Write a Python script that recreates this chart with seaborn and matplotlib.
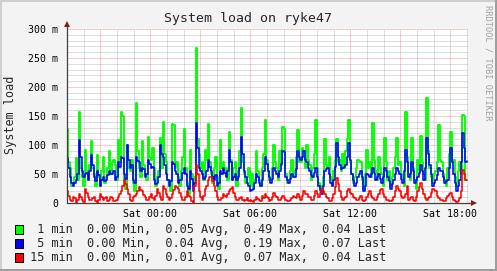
import numpy as np
import pandas as pd
import matplotlib
matplotlib.use("Agg")
import matplotlib.pyplot as plt
import matplotlib.transforms as mtransforms
from matplotlib.patches import Rectangle
from matplotlib.lines import Line2D
import seaborn as sns

# ---------------- data (milli-load, one sample every ~5.4 min from Fri 19:00) ----------------
load_1min = [128, 70, 60, 30, 35, 45, 78, 40, 157, 60, 45, 30, 91, 55, 40, 65, 107, 60, 50, 30,
             83, 45, 30, 55, 80, 35, 45, 60, 90, 50, 70, 75, 65, 40, 108, 70, 157, 150, 40, 25,
             100, 60, 55, 75, 35, 20, 172, 90, 60, 45, 107, 65, 50, 40, 114, 80, 75, 95, 60, 30,
             45, 55, 112, 60, 140, 85, 70, 40, 40, 20, 137, 135, 60, 70, 45, 30, 55, 80, 127, 60,
             35, 15, 92, 50, 30, 45, 268, 110, 85, 60, 70, 40, 92, 75, 137, 70, 50, 35, 60, 80,
             45, 25, 108, 60, 70, 55, 60, 40, 122, 75, 40, 60, 70, 30, 55, 90, 164, 70, 50, 35,
             45, 60, 30, 50, 25, 40, 90, 55, 40, 30, 60, 85, 143, 75, 55, 40, 40, 60, 100, 70,
             60, 40, 90, 65, 131, 128, 50, 35, 40, 55, 75, 45, 55, 80, 126, 70, 70, 95, 90, 60,
             100, 75, 65, 40, 60, 85, 143, 60, 35, 20, 30, 45, 110, 65, 60, 80, 45, 30, 55, 75,
             110, 70, 75, 55, 85, 60, 90, 110, 143, 70, 50, 35, 45, 60, 75, 72, 70, 40, 25, 50,
             92, 60, 70, 45, 138, 75, 55, 40, 80, 60, 50, 30, 112, 70, 40, 55, 30, 45, 60, 80,
             112, 65, 70, 50, 45, 30, 157, 80, 50, 40, 112, 60, 40, 25, 75, 55, 115, 70, 50, 40,
             181, 90, 60, 45, 35, 50, 55, 70, 134, 75, 70, 50, 40, 30, 60, 85, 122, 70, 75, 45,
             30, 55, 70, 50, 152, 150, 40, 40]
load_5min = [78, 60, 45, 35, 30, 35, 40, 50, 109, 80, 55, 45, 50, 52, 40, 55, 83, 65, 45, 38,
             55, 48, 30, 40, 45, 38, 40, 48, 55, 50, 50, 55, 40, 45, 70, 62, 80, 78, 50, 42,
             100, 75, 60, 65, 40, 35, 80, 72, 70, 55, 60, 58, 45, 50, 75, 68, 60, 62, 40, 33,
             35, 45, 100, 85, 80, 65, 50, 40, 30, 38, 70, 68, 55, 50, 35, 40, 40, 52, 60, 50,
             30, 25, 55, 42, 20, 35, 138, 95, 60, 55, 50, 42, 45, 55, 75, 62, 55, 45, 40, 48,
             30, 35, 55, 50, 60, 52, 45, 55, 92, 70, 40, 45, 50, 40, 45, 60, 114, 85, 55, 45,
             35, 30, 20, 22, 25, 35, 50, 45, 35, 30, 40, 55, 80, 68, 55, 45, 35, 42, 60, 55,
             50, 45, 55, 68, 90, 88, 45, 40, 35, 42, 50, 45, 45, 58, 90, 80, 75, 80, 90, 75,
             70, 60, 55, 48, 45, 52, 60, 45, 30, 22, 15, 30, 55, 58, 60, 50, 35, 30, 40, 62,
             103, 80, 65, 58, 60, 62, 65, 80, 103, 75, 50, 40, 30, 35, 45, 50, 55, 45, 20, 30,
             50, 48, 45, 50, 60, 52, 40, 45, 50, 42, 35, 45, 60, 55, 45, 38, 25, 32, 40, 50,
             60, 55, 50, 42, 35, 55, 91, 70, 45, 50, 70, 55, 35, 40, 45, 52, 65, 55, 40, 60,
             112, 85, 65, 50, 30, 35, 40, 48, 60, 55, 55, 45, 35, 38, 40, 60, 95, 70, 50, 35,
             20, 30, 40, 70, 121, 95, 70, 72]
load_15min = [20, 12, 5, 3, 10, 8, 0, 5, 15, 10, 5, 2, 25, 18, 10, 5, 5, 8, 10, 3,
              0, 5, 15, 10, 5, 8, 10, 4, 5, 10, 8, 3, 3, 6, 10, 15, 20, 30, 40, 32,
              25, 15, 5, 3, 10, 12, 15, 20, 28, 22, 20, 14, 10, 6, 5, 10, 15, 8, 5, 12,
              25, 18, 10, 5, 30, 25, 15, 10, 5, 8, 15, 22, 30, 28, 25, 18, 10, 6, 5, 10,
              20, 12, 10, 3, 0, 30, 65, 50, 20, 10, 5, 12, 25, 30, 40, 45, 45, 38, 30, 20,
              10, 6, 5, 8, 15, 12, 10, 15, 20, 25, 27, 18, 10, 5, 5, 8, 10, 6, 3, 5,
              8, 4, 5, 3, 2, 5, 10, 7, 5, 3, 12, 9, 15, 10, 8, 4, 5, 10, 18, 12,
              10, 6, 5, 8, 12, 9, 6, 3, 3, 5, 8, 12, 10, 8, 15, 10, 5, 12, 20, 15,
              15, 10, 10, 6, 5, 12, 20, 15, 10, 18, 25, 20, 15, 10, 8, 4, 3, 8, 15, 28,
              43, 32, 20, 10, 5, 8, 10, 20, 25, 18, 15, 10, 8, 5, 5, 9, 12, 6, 3, 5,
              10, 15, 20, 12, 8, 5, 5, 10, 15, 22, 25, 15, 10, 6, 5, 3, 3, 6, 10, 20,
              30, 25, 20, 12, 8, 10, 15, 30, 5, 8, 10, 5, 3, 10, 20, 28, 35, 25, 15, 8,
              5, 8, 10, 18, 25, 22, 20, 12, 8, 5, 5, 3, 3, 8, 12, 15, 18, 10, 5, 3,
              2, 4, 8, 20, 57, 50, 40, 40]

series_names = ["1 min", "5 min", "15 min"]
series_values = [load_1min, load_5min, load_15min]
series_colors = ["#00FF00", "#0000FF", "#FF0000"]
stat_min = [0.00, 0.00, 0.00]
stat_avg = [0.05, 0.04, 0.01]
stat_max = [0.49, 0.19, 0.07]
stat_last = [0.04, 0.07, 0.04]

x_tick_hours = [5, 11, 17, 23]          # hours after Fri 19:00
x_tick_labels = ["Sat 00:00", "Sat 06:00", "Sat 12:00", "Sat 18:00"]
y_ticks = [0, 50, 100, 150, 200, 250, 300]
y_tick_labels = ["0", "50 m", "100 m", "150 m", "200 m", "250 m", "300 m"]
title_text = "System load on ryke47"
y_label_text = "System load"
watermark_text = "RRDTOOL / TOBI OETIKER"

span_hours = 24.06

# ---------------- figure ----------------
sns.set_style("white")
plt.rcParams["font.family"] = ["DejaVu Sans Mono", "DejaVu Sans"]

W, H = 497, 271
fig = plt.figure(figsize=(W / 100, H / 100), dpi=100, facecolor="#F3F3F3")
ax = fig.add_axes([67 / W, 1 - 203 / H, (468 - 67) / W, (203 - 29) / H])
ax.set_facecolor("white")

line_widths = [1.35, 1.15, 1.15]
for name, vals, col, lw in zip(series_names, series_values, series_colors, line_widths):
    hrs = np.arange(len(vals)) * (span_hours / len(vals))
    d = pd.DataFrame({"hour": hrs, "load": vals})
    sns.lineplot(data=d, x="hour", y="load", ax=ax, color=col, linewidth=lw,
                 drawstyle="steps-post", legend=False, zorder=3)

ax.set_xlim(0, span_hours)
ax.set_ylim(0, 300)
ax.set_xlabel("")
ax.set_ylabel("")

# ticks / grid
major_x = list(range(2, 24, 3))
ax.set_xticks(major_x)
ax.set_xticklabels([x_tick_labels[x_tick_hours.index(h)] if h in x_tick_hours else "" for h in major_x])
ax.set_xticks(list(range(1, 25)), minor=True)
ax.set_yticks(y_ticks)
ax.set_yticklabels(y_tick_labels)
ax.set_yticks(list(range(0, 301, 10)), minor=True)
ax.set_axisbelow(True)
ax.grid(which="minor", color="#8F8F8F", alpha=0.6, linewidth=0.72, linestyle=(0, (1, 1)))
ax.grid(which="major", color="#E93B3B", alpha=0.5, linewidth=0.72, linestyle=(0, (1, 1)))
ax.tick_params(axis="both", which="major", length=2, width=0.72, color="#E93B3B",
               labelsize=7.1, labelcolor="black")
ax.tick_params(axis="y", which="major", pad=4.5)
ax.tick_params(axis="x", which="major", pad=2.5)
ax.tick_params(axis="both", which="minor", length=1, width=0.72, color="#A0A0A0")
for s in ax.spines.values():
    s.set_visible(False)

# axis lines and arrows
axis_col = "#404040"
ax.add_line(Line2D([0, 0], [0, 1 + 4 / 174], transform=ax.transAxes, color=axis_col,
                   lw=0.9, clip_on=False, zorder=5))
ax.add_line(Line2D([0, 1 + 4 / 401], [0, 0], transform=ax.transAxes, color=axis_col,
                   lw=0.9, clip_on=False, zorder=5))
arrow_col = "#7F1F1F"
ax.plot([0], [1], transform=mtransforms.offset_copy(ax.transAxes, fig, x=0, y=5, units="dots"),
        marker="^", markersize=4.2, color=arrow_col, clip_on=False, zorder=6, mew=0)
ax.plot([1], [0], transform=mtransforms.offset_copy(ax.transAxes, fig, x=6, y=0, units="dots"),
        marker=">", markersize=4.2, color=arrow_col, clip_on=False, zorder=6, mew=0)

# texts
fig.text(248 / W, 1 - 18.5 / H, title_text, ha="center", va="center", fontsize=9.5)
fig.text(10.5 / W, 1 - 115 / H, y_label_text, ha="center", va="center", rotation=90, fontsize=8.5)
fig.text(488 / W, 1 - 5 / H, watermark_text, ha="center", va="top", rotation=270,
         fontsize=6.2, color="#A0A0A0")

# legend
row_y = [229, 243, 257]
for name, col, mn, av, mx, la, ry in zip(series_names, series_colors, stat_min, stat_avg,
                                          stat_max, stat_last, row_y):
    fig.patches.append(Rectangle((15 / W, 1 - (ry + 4.5) / H), 8 / W, 9 / H,
                                 transform=fig.transFigure, facecolor=col, edgecolor="black",
                                 linewidth=0.72))
    txt = f"{name:>6}  {mn:.2f} Min,  {av:.2f} Avg,  {mx:.2f} Max,  {la:.2f} Last"
    fig.text(30 / W, 1 - ry / H, txt, ha="left", va="center", fontsize=8.6)

# 3D border
fig.patches.append(Rectangle((0, 1 - 2 / H), 1, 2 / H, transform=fig.transFigure,
                             facecolor="#CFCFCF", edgecolor="none"))
fig.patches.append(Rectangle((0, 0), 2 / W, 1, transform=fig.transFigure,
                             facecolor="#CFCFCF", edgecolor="none"))
fig.patches.append(Rectangle((0, 0), 1, 2 / H, transform=fig.transFigure,
                             facecolor="#9E9E9E", edgecolor="none"))
fig.patches.append(Rectangle((1 - 2 / W, 0), 2 / W, 1, transform=fig.transFigure,
                             facecolor="#9E9E9E", edgecolor="none"))

fig.savefig("out.png", dpi=100, facecolor=fig.get_facecolor())
